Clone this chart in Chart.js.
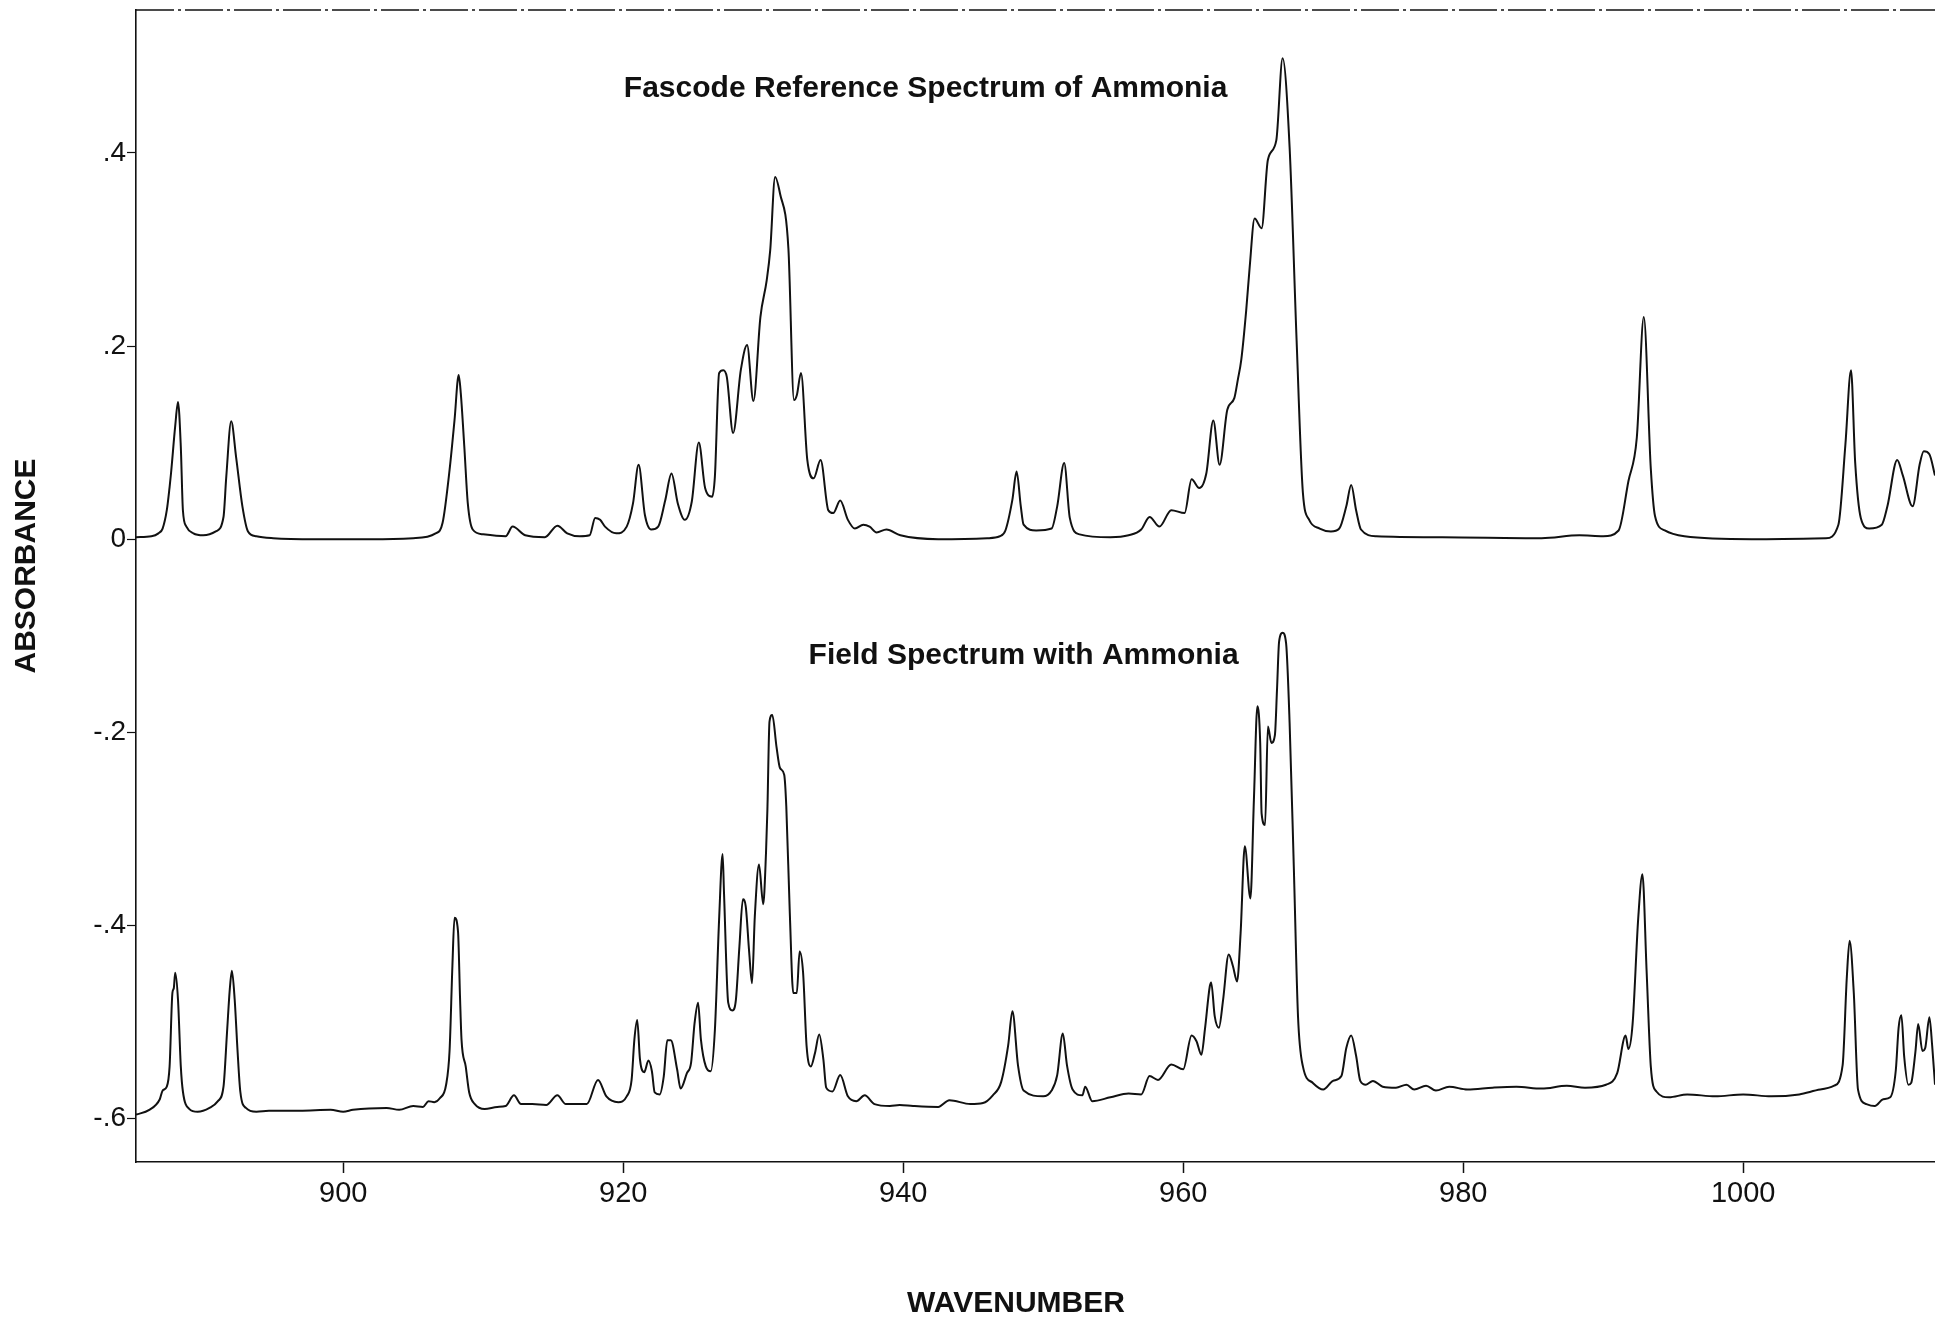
<!DOCTYPE html>
<html>
<head>
<meta charset="utf-8">
<title>Ammonia spectra</title>
<script src="https://cdn.jsdelivr.net/npm/chart.js@4.4.0/dist/chart.umd.min.js"></script>
<style>
  html, body { margin: 0; padding: 0; background: #fff; overflow: hidden; }
</style>
</head>
<body>
<canvas id="spectrum" width="1935" height="1322"></canvas>
<script>
// Fascode reference spectrum (top trace)
const refWavenumber = [885.2, 886.3, 886.8, 887.1, 887.4, 887.6, 887.7, 888.0, 888.2, 888.4, 888.55, 888.8, 889.3, 890.0, 890.9, 891.45, 891.65, 892.0, 892.35, 892.8,
  893.2, 893.8, 895.0, 898.0, 902.0, 905.0, 906.6, 907.1, 907.6, 907.95, 908.25, 908.4, 908.65, 908.9, 909.25, 910.0, 911.6, 912.1, 913.0, 914.4,
  915.3, 916.0, 916.9, 917.6, 918.0, 918.35, 918.7, 919.5, 920.25, 920.7, 921.1, 921.55, 922.0, 922.5, 923.0, 923.45, 923.9, 924.4, 924.9, 925.4,
  925.85, 926.35, 926.55, 926.85, 927.15, 927.4, 927.85, 928.4, 928.85, 929.3, 929.8, 930.25, 930.5, 930.85, 931.2, 931.8, 932.2, 932.4, 932.7, 933.15,
  933.6, 934.1, 934.65, 935.0, 935.5, 936.05, 936.55, 937.15, 937.6, 938.1, 938.8, 939.8, 942.5, 946.0, 946.9, 947.3, 947.8, 948.1, 948.4, 948.6,
  949.5, 950.6, 951.0, 951.5, 951.9, 952.6, 954.8, 956.1, 957.0, 957.6, 958.3, 959.15, 960.1, 960.6, 961.15, 961.65, 962.15, 962.6, 963.15, 963.65,
  963.9, 964.15, 964.5, 964.75, 965.1, 965.6, 966.05, 966.65, 967.1, 967.6, 968.1, 968.55, 969.0, 969.75, 970.55, 971.15, 971.65, 972.0, 972.35, 972.7,
  973.8, 978.5, 985.6, 988.3, 990.0, 991.1, 991.8, 992.4, 992.9, 993.4, 993.7, 994.4, 995.8, 1000.6, 1005.9, 1006.8, 1007.3, 1007.7, 1008.0, 1008.4,
  1009.0, 1009.9, 1010.3, 1011.0, 1011.4, 1012.1, 1012.6, 1012.9, 1013.3, 1013.7];
const refAbsorbance = [0.002, 0.003, 0.006, 0.011, 0.030, 0.054, 0.068, 0.117, 0.142, 0.096, 0.030, 0.013, 0.006, 0.004, 0.008, 0.023, 0.065, 0.122, 0.085, 0.034,
  0.008, 0.003, 0.001, 0.000, 0.000, 0.001, 0.006, 0.017, 0.072, 0.123, 0.170, 0.151, 0.096, 0.037, 0.010, 0.005, 0.003, 0.013, 0.004, 0.002,
  0.014, 0.006, 0.003, 0.004, 0.022, 0.020, 0.013, 0.006, 0.013, 0.037, 0.077, 0.025, 0.010, 0.013, 0.040, 0.068, 0.037, 0.020, 0.039, 0.100,
  0.053, 0.044, 0.065, 0.172, 0.175, 0.168, 0.110, 0.175, 0.201, 0.143, 0.230, 0.268, 0.299, 0.375, 0.358, 0.301, 0.144, 0.149, 0.172, 0.082,
  0.063, 0.082, 0.030, 0.027, 0.040, 0.020, 0.011, 0.015, 0.013, 0.007, 0.010, 0.004, 0.000, 0.001, 0.003, 0.009, 0.041, 0.070, 0.034, 0.015,
  0.009, 0.011, 0.034, 0.079, 0.022, 0.005, 0.002, 0.004, 0.010, 0.023, 0.013, 0.030, 0.027, 0.062, 0.053, 0.068, 0.123, 0.077, 0.134, 0.146,
  0.165, 0.186, 0.237, 0.282, 0.332, 0.322, 0.393, 0.413, 0.498, 0.406, 0.206, 0.048, 0.020, 0.011, 0.008, 0.011, 0.034, 0.056, 0.030, 0.010,
  0.003, 0.002, 0.001, 0.004, 0.003, 0.009, 0.060, 0.105, 0.230, 0.073, 0.024, 0.009, 0.003, 0.000, 0.001, 0.015, 0.098, 0.175, 0.079, 0.022,
  0.011, 0.015, 0.034, 0.082, 0.066, 0.034, 0.077, 0.091, 0.088, 0.066];

// Field spectrum (bottom trace, offset)
const fieldWavenumber = [885.2, 886.15, 886.9, 887.1, 887.4, 887.6, 887.8, 887.9, 888.0, 888.2, 888.4, 888.55, 889.0, 889.6, 890.45, 891.05, 891.45, 891.7, 891.9, 892.05,
  892.25, 892.45, 892.65, 893.05, 893.8, 894.7, 896.9, 899.1, 900.0, 900.7, 903.1, 904.0, 905.0, 905.7, 906.1, 906.5, 906.9, 907.35, 907.6, 907.8,
  907.95, 908.2, 908.35, 908.45, 908.75, 909.0, 909.4, 910.1, 911.0, 911.6, 912.2, 912.7, 913.5, 914.5, 915.3, 915.9, 917.4, 918.2, 918.8, 919.65,
  920.25, 920.6, 920.8, 921.0, 921.2, 921.5, 921.8, 922.05, 922.25, 922.6, 922.9, 923.15, 923.4, 923.85, 924.1, 924.55, 924.85, 925.1, 925.35, 925.55,
  925.9, 926.25, 926.55, 926.85, 927.1, 927.2, 927.5, 927.8, 928.05, 928.3, 928.55, 928.75, 929.0, 929.2, 929.4, 929.7, 930.0, 930.2, 930.3, 930.45,
  930.65, 930.95, 931.2, 931.5, 931.65, 931.9, 932.15, 932.4, 932.6, 932.85, 933.1, 933.4, 933.7, 934.0, 934.3, 934.5, 934.95, 935.5, 936.05, 936.65,
  937.25, 937.95, 939.05, 939.75, 940.7, 942.5, 943.3, 944.8, 945.7, 946.4, 947.0, 947.5, 947.8, 948.2, 948.6, 950.0, 950.6, 951.0, 951.4, 951.7,
  952.1, 952.8, 953.0, 953.5, 954.8, 956.1, 957.0, 957.6, 958.2, 959.15, 960.0, 960.6, 960.95, 961.3, 961.55, 961.9, 962.0, 962.25, 962.55, 962.85,
  963.25, 963.55, 963.85, 964.1, 964.4, 964.8, 965.05, 965.3, 965.5, 965.6, 965.85, 966.05, 966.3, 966.55, 966.7, 966.85, 967.1, 967.35, 967.6, 967.9,
  968.2, 968.55, 969.25, 970.0, 970.7, 971.3, 971.65, 972.0, 972.35, 972.65, 973.05, 973.55, 974.25, 975.2, 975.95, 976.5, 977.35, 978.05, 979.0, 980.3,
  982.1, 983.8, 985.6, 987.4, 988.7, 990.2, 991.0, 991.6, 991.8, 992.1, 992.5, 992.8, 993.1, 993.4, 993.8, 994.7, 996.0, 998.0, 1000.0, 1002.0,
  1004.0, 1005.5, 1006.5, 1007.1, 1007.4, 1007.6, 1007.9, 1008.2, 1008.8, 1009.4, 1010.0, 1010.5, 1010.9, 1011.1, 1011.3, 1011.5, 1011.8, 1012.0, 1012.3, 1012.5,
  1012.8, 1013.0, 1013.3, 1013.5, 1013.7];
const fieldAbsorbance = [-0.596, -0.591, -0.580, -0.571, -0.567, -0.546, -0.470, -0.465, -0.449, -0.477, -0.546, -0.572, -0.590, -0.593, -0.589, -0.582, -0.567, -0.511, -0.466, -0.447,
  -0.477, -0.529, -0.572, -0.589, -0.593, -0.592, -0.592, -0.591, -0.593, -0.591, -0.589, -0.591, -0.587, -0.588, -0.582, -0.583, -0.579, -0.565, -0.529, -0.442,
  -0.392, -0.406, -0.477, -0.518, -0.546, -0.573, -0.585, -0.590, -0.588, -0.587, -0.576, -0.585, -0.585, -0.586, -0.576, -0.585, -0.585, -0.560, -0.577, -0.583,
  -0.577, -0.560, -0.518, -0.498, -0.539, -0.552, -0.540, -0.551, -0.573, -0.575, -0.556, -0.519, -0.519, -0.549, -0.569, -0.553, -0.542, -0.501, -0.480, -0.518,
  -0.546, -0.551, -0.508, -0.394, -0.326, -0.366, -0.480, -0.488, -0.477, -0.422, -0.373, -0.380, -0.428, -0.460, -0.391, -0.337, -0.378, -0.325, -0.280, -0.189,
  -0.182, -0.215, -0.237, -0.244, -0.277, -0.387, -0.470, -0.470, -0.427, -0.449, -0.525, -0.546, -0.532, -0.513, -0.539, -0.568, -0.572, -0.555, -0.577, -0.582,
  -0.576, -0.585, -0.587, -0.586, -0.587, -0.588, -0.581, -0.585, -0.584, -0.576, -0.562, -0.524, -0.489, -0.545, -0.571, -0.577, -0.571, -0.555, -0.512, -0.545,
  -0.570, -0.576, -0.567, -0.582, -0.578, -0.574, -0.575, -0.556, -0.560, -0.544, -0.549, -0.514, -0.520, -0.534, -0.508, -0.463, -0.459, -0.494, -0.506, -0.477,
  -0.430, -0.442, -0.458, -0.408, -0.318, -0.372, -0.270, -0.173, -0.211, -0.284, -0.296, -0.194, -0.211, -0.203, -0.156, -0.106, -0.097, -0.108, -0.190, -0.339,
  -0.494, -0.546, -0.563, -0.570, -0.561, -0.556, -0.527, -0.514, -0.535, -0.561, -0.565, -0.561, -0.567, -0.568, -0.565, -0.570, -0.566, -0.571, -0.567, -0.570,
  -0.568, -0.567, -0.569, -0.566, -0.568, -0.565, -0.553, -0.514, -0.528, -0.502, -0.393, -0.347, -0.447, -0.546, -0.572, -0.578, -0.575, -0.577, -0.575, -0.577,
  -0.575, -0.570, -0.566, -0.545, -0.454, -0.416, -0.470, -0.570, -0.585, -0.587, -0.580, -0.578, -0.550, -0.506, -0.493, -0.536, -0.565, -0.563, -0.531, -0.502,
  -0.530, -0.527, -0.495, -0.525, -0.565];

const xTicks = [900, 920, 940, 960, 980, 1000];
const yTicks = [-0.6, -0.4, -0.2, 0, 0.2, 0.4];
const yTickLabels = ['-.6', '-.4', '-.2', '0', '.2', '.4'];

const noteText = ['Fascode Reference Spectrum of Ammonia', 'Field Spectrum with Ammonia'];
const noteX = [941.6, 948.6];
const noteY = [0.466, -0.121];

const xTitle = 'WAVENUMBER';
const yTitle = 'ABSORBANCE';

const FONT = '"Liberation Sans", Arial, Helvetica, sans-serif';
const INK = '#111';

function toPoints(xs, ys) {
  return xs.map((x, i) => ({ x: x, y: ys[i] }));
}

// top frame line, panel captions and axis titles
const extras = {
  id: 'extras',
  afterDraw(chart) {
    const { ctx, chartArea, scales } = chart;
    ctx.save();
    ctx.strokeStyle = INK;
    ctx.lineWidth = 1.5;
    ctx.setLineDash([38, 4, 3, 4]);
    ctx.beginPath();
    ctx.moveTo(chartArea.left, chartArea.top);
    ctx.lineTo(chartArea.right, chartArea.top);
    ctx.stroke();
    ctx.setLineDash([]);

    ctx.fillStyle = INK;
    ctx.textAlign = 'center';
    ctx.textBaseline = 'middle';
    ctx.font = 'bold 30px ' + FONT;
    noteText.forEach((t, i) => {
      ctx.fillText(t, scales.x.getPixelForValue(noteX[i]), scales.y.getPixelForValue(noteY[i]));
    });

    ctx.fillText(xTitle, 1016, 1304);
    ctx.translate(27, 566);
    ctx.rotate(-Math.PI / 2);
    ctx.fillText(yTitle, 0, 0);
    ctx.restore();
  }
};

new Chart(document.getElementById('spectrum'), {
  type: 'line',
  data: {
    datasets: [
      {
        label: 'Fascode reference',
        data: toPoints(refWavenumber, refAbsorbance),
        borderColor: INK,
        borderWidth: 2,
        pointRadius: 0,
        cubicInterpolationMode: 'monotone',
        fill: false
      },
      {
        label: 'Field spectrum',
        data: toPoints(fieldWavenumber, fieldAbsorbance),
        borderColor: INK,
        borderWidth: 2,
        pointRadius: 0,
        cubicInterpolationMode: 'monotone',
        fill: false
      }
    ]
  },
  options: {
    responsive: false,
    animation: false,
    layout: { padding: { top: 10, right: 0, bottom: 0, left: 0 } },
    plugins: {
      legend: { display: false },
      tooltip: { enabled: false }
    },
    scales: {
      x: {
        type: 'linear',
        min: 885.2,
        max: 1013.7,
        afterBuildTicks: s => { s.ticks = xTicks.map(v => ({ value: v })); },
        afterFit: s => { s.height = 160; s.paddingLeft = 0; s.paddingRight = 0; },
        grid: { drawOnChartArea: false, tickLength: 11, tickColor: INK, tickWidth: 1.5 },
        border: { color: INK, width: 1.5, dash: [38, 4, 3, 4] },
        ticks: {
          color: INK,
          font: { family: FONT, size: 29 },
          padding: 4,
          maxRotation: 0,
          autoSkip: false,
          callback: v => String(v)
        }
      },
      y: {
        type: 'linear',
        min: -0.645,
        max: 0.548,
        afterBuildTicks: s => { s.ticks = yTicks.map(v => ({ value: v })); },
        afterFit: s => { s.width = 136; s.paddingTop = 0; s.paddingBottom = 0; },
        grid: { drawOnChartArea: false, tickLength: 9, tickColor: INK, tickWidth: 1.2 },
        border: { color: INK, width: 1.6 },
        ticks: {
          color: INK,
          font: { family: FONT, size: 28 },
          padding: 1,
          autoSkip: false,
          callback: (v, i) => yTickLabels[i]
        }
      }
    }
  },
  plugins: [extras]
});
</script>
</body>
</html>
